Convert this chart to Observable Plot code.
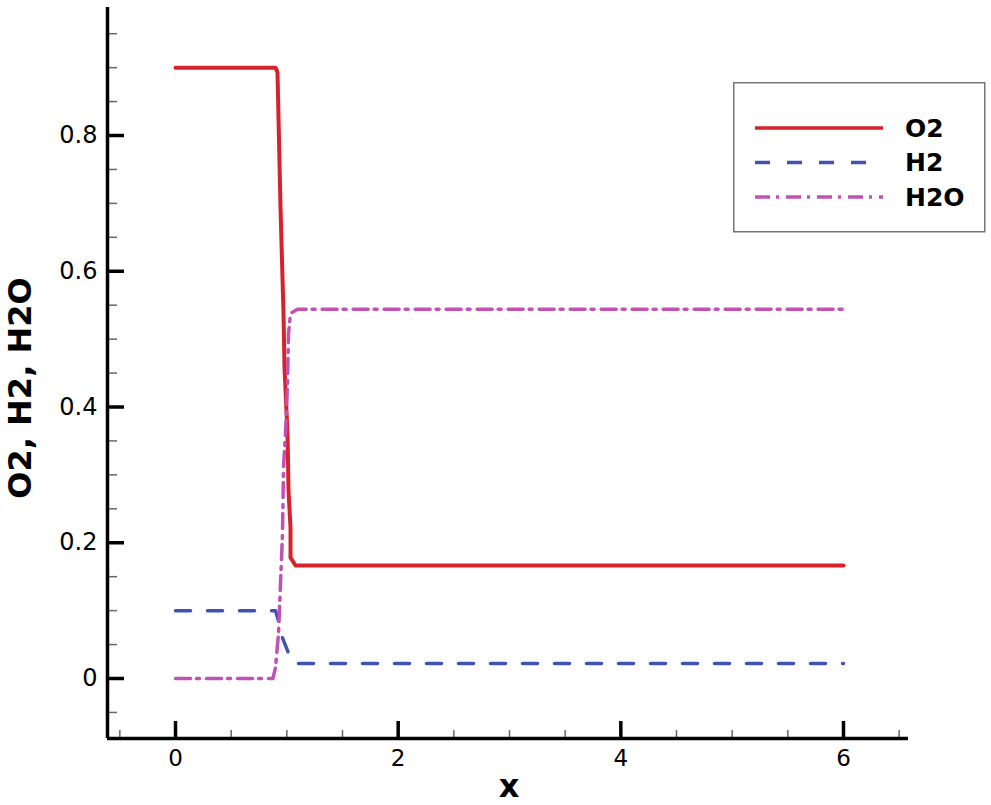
<!DOCTYPE html>
<html><head><meta charset="utf-8">
<script src="https://cdn.jsdelivr.net/npm/d3@7"></script>
<script src="https://cdn.jsdelivr.net/npm/@observablehq/plot@0.6"></script>
<style>
body{margin:0;background:#fff}
#wrap{position:relative;width:991px;height:805px;overflow:hidden;background:#fff}
#legend{position:absolute;left:733px;top:82px}
</style>
</head><body><div id="wrap"></div>
<script>
// ---- data ----
const seriesNames = ["O2", "H2", "H2O"];
const seriesColors = ["#d7222b", "#4152b0", "#c351b4"];
const seriesDash = [null, "15 17", "15 6 3 7"];

const o2X = [0, 0.898, 0.916, 0.943, 0.970, 0.979, 1.006, 1.015, 1.033, 1.033, 1.078, 6];
const o2Y = [0.9, 0.9, 0.893, 0.694, 0.538, 0.458, 0.361, 0.277, 0.222, 0.178, 0.1665, 0.1665];

const h2X = [0, 0.898, 0.925, 0.961, 1.006, 1.033, 1.096, 6];
const h2Y = [0.1, 0.1, 0.085, 0.060, 0.041, 0.029, 0.022, 0.022];

const h2oX = [0, 0.875, 0.898, 0.925, 0.943, 0.961, 0.970, 0.988, 1.006, 1.015, 1.033, 1.096, 6];
const h2oY = [0, 0, 0.016, 0.066, 0.140, 0.214, 0.311, 0.361, 0.435, 0.508, 0.538, 0.544, 0.544];

const xMajorTicks = [0, 2, 4, 6];
const xMinorTicks = [-0.5, 0.5, 1, 1.5, 2.5, 3, 3.5, 4.5, 5, 5.5, 6.5];
const yMajorTicks = [0, 0.2, 0.4, 0.6, 0.8];
const yMinorTicks = [-0.05, 0.05, 0.1, 0.15, 0.25, 0.3, 0.35, 0.45, 0.5, 0.55, 0.65, 0.7, 0.75, 0.85, 0.9, 0.95];
const xDomain = [-0.611, 6.584];
const yDomain = [-0.0884, 0.9886];
const xLabel = "x";
const yLabel = "O2, H2, H2O";

// ---- build ----
const seriesX = [o2X, h2X, h2oX];
const seriesY = [o2Y, h2Y, h2oY];
const font = "'DejaVu Sans', sans-serif";

const lineMarks = seriesNames.map((name, i) => {
  const rows = seriesX[i].map((x, j) => ({x, y: seriesY[i][j]}));
  const opts = {x: "x", y: "y", stroke: seriesColors[i], strokeWidth: i === 0 ? 4 : 3.5};
  if (seriesDash[i]) opts.strokeDasharray = seriesDash[i];
  return Plot.line(rows, opts);
});

const fmt = d => d === 0 ? "0" : (Number.isInteger(d) ? String(d) : d.toFixed(1));

const plot = Plot.plot({
  width: 991, height: 805,
  marginLeft: 107, marginRight: 83, marginTop: 7, marginBottom: 67,
  x: {domain: xDomain, label: null},
  y: {domain: yDomain, label: null},
  style: {fontFamily: font, background: "#fff", color: "#000"},
  marks: [
    ...lineMarks,
    Plot.axisY(yMinorTicks, {tickSize: -10, tickFormat: () => "", stroke: "#666", strokeWidth: 1.5}),
    Plot.axisY(yMajorTicks, {tickSize: -17, tickFormat: () => "", stroke: "#000", strokeWidth: 3.5}),
    Plot.axisY(yMajorTicks, {tickSize: 0, tickPadding: 10, fontSize: 24, tickFormat: fmt, fill: "#000"}),
    Plot.axisX(xMinorTicks, {tickSize: -8, tickFormat: () => "", stroke: "#666", strokeWidth: 1.5}),
    Plot.axisX(xMajorTicks, {tickSize: -17, tickFormat: () => "", stroke: "#000", strokeWidth: 3.5}),
    Plot.axisX(xMajorTicks, {tickSize: 0, tickPadding: 11, fontSize: 23, tickFormat: fmt, fill: "#000"}),
    Plot.ruleX([xDomain[0]], {stroke: "#000", strokeWidth: 3.5}),
    Plot.ruleY([yDomain[0]], {stroke: "#000", strokeWidth: 3.5})
  ]
});
document.getElementById("wrap").appendChild(plot);

// axis titles
const svg = d3.select(plot);
svg.append("text")
  .attr("transform", "translate(20,388) rotate(-90)")
  .attr("text-anchor", "middle").attr("dominant-baseline", "central")
  .style("font", `bold 32px ${font}`).attr("fill", "#000")
  .text(yLabel);
svg.append("text")
  .attr("x", 509).attr("y", 797)
  .attr("text-anchor", "middle")
  .style("font", `bold 32px ${font}`).attr("fill", "#000")
  .text(xLabel);

// legend
const leg = d3.select("#wrap").append("svg").attr("id", "legend")
  .attr("width", 253).attr("height", 151);
leg.append("rect").attr("x", 0.75).attr("y", 0.75).attr("width", 251).attr("height", 149)
  .attr("fill", "#fff").attr("stroke", "#777").attr("stroke-width", 1.5);
seriesNames.forEach((name, i) => {
  const y = 46 + i * 34.5;
  const l = leg.append("line").attr("x1", 22).attr("x2", 150).attr("y1", y).attr("y2", y)
    .attr("stroke", seriesColors[i]).attr("stroke-width", 3.5);
  if (seriesDash[i]) l.attr("stroke-dasharray", seriesDash[i]);
  leg.append("text").attr("x", 172).attr("y", y).attr("dominant-baseline", "central")
    .style("font", `bold 25px ${font}`).attr("fill", "#000").text(name);
});
</script>
</body></html>
